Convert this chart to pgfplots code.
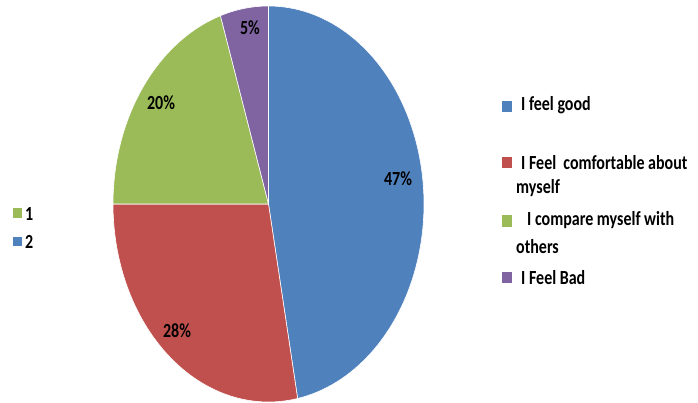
\documentclass[border=0pt]{standalone}
\usepackage{pgfplots}
\usepackage{pgfplotstable}
\usepackage{fontspec}
\setmainfont{Carlito}
\pgfplotsset{compat=1.18}
\definecolor{pieblue}{HTML}{4F81BD}
\definecolor{piered}{HTML}{C0504D}
\definecolor{piegreen}{HTML}{9BBB59}
\definecolor{piepurple}{HTML}{8064A2}
\pgfplotstableread{
value color
47 pieblue
28 piered
20 piegreen
5 piepurple
}\piedata
\begin{document}
\begin{tikzpicture}
\begin{axis}[hide axis, scale only axis, width=698pt, height=403pt,
  xmin=0, xmax=698, ymin=0, ymax=403, clip=false]
\path (rel axis cs:0,0) rectangle (rel axis cs:1,1);
\xdef\cum{0}
\pgfplotsforeachungrouped \i in {0,...,3}{
  \pgfplotstablegetelem{\i}{value}\of\piedata \let\v=\pgfplotsretval
  \pgfplotstablegetelem{\i}{color}\of\piedata \let\c=\pgfplotsretval
  \pgfmathsetmacro{\a}{90-3.6*\cum}
  \pgfmathsetmacro{\b}{90-3.6*(\cum+\v)}
  \edef\temp{\noexpand\addplot[fill=\c, draw=white, line width=0.6pt, domain=\a:\b, samples=90]
    ({268.5+155.5*cos(x)},{199+198*sin(x)}) -- (axis cs:268.5,199) -- cycle;}
  \temp
  \pgfmathsetmacro{\newcum}{\cum+\v}
  \xdef\cum{\newcum}
}
% slice labels
\tikzset{lbl/.style={font=\bfseries\fontsize{16}{19}\selectfont, yscale=1.25, inner sep=0pt}}
\node[lbl] at (axis cs:398,224) {47\%};
\node[lbl] at (axis cs:177,72) {28\%};
\node[lbl] at (axis cs:161,300) {20\%};
\node[lbl] at (axis cs:250,375) {5\%};
% right legend
\fill[pieblue] (axis cs:502,291) rectangle (axis cs:512,302);
\fill[piered] (axis cs:502,235) rectangle (axis cs:512,246);
\fill[piegreen] (axis cs:502,176) rectangle (axis cs:512,188);
\fill[piepurple] (axis cs:502,120) rectangle (axis cs:512,131);
\tikzset{leg/.style={font=\bfseries\fontsize{16}{19}\selectfont, yscale=1.25, inner sep=0pt, anchor=west}}
\node[leg] at (axis cs:521,298) {I feel good};
\node[leg] at (axis cs:521,240) {I Feel\ \ comfortable about};
\node[leg] at (axis cs:516,215) {myself};
\node[leg] at (axis cs:527,183) {I compare myself with};
\node[leg] at (axis cs:516,156) {others};
\node[leg] at (axis cs:521,125) {I Feel Bad};
% left legend
\fill[piegreen] (axis cs:13,185) rectangle (axis cs:22,195);
\fill[pieblue] (axis cs:13,157) rectangle (axis cs:22,166);
\node[leg] at (axis cs:25,189) {1};
\node[leg] at (axis cs:25,161) {2};
\end{axis}
\end{tikzpicture}
\end{document}
